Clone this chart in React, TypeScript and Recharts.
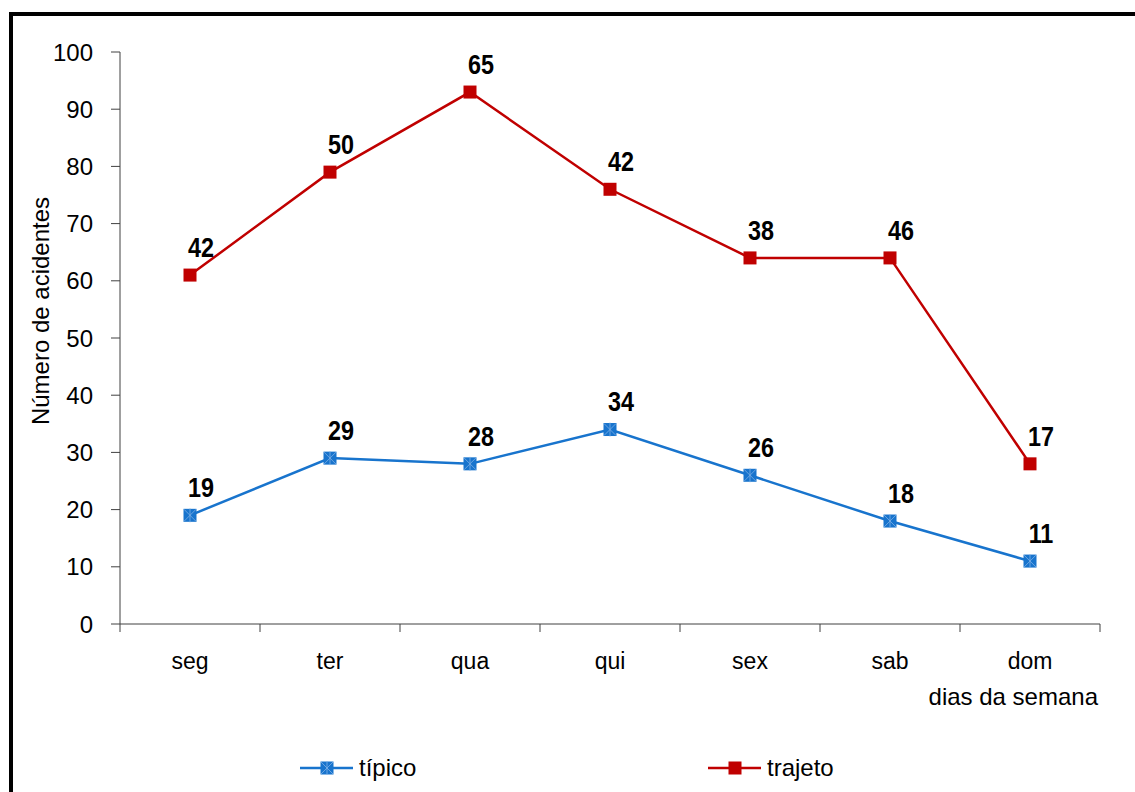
import React from "react";
import { LineChart, Line, XAxis, YAxis, Legend, LabelList } from "recharts";

const DAYS = ["seg", "ter", "qua", "qui", "sex", "sab", "dom"];
const TIPICO = [19, 29, 28, 34, 26, 18, 11];
const TRAJETO = [42, 50, 65, 42, 38, 46, 17];
const Y_TICKS = [0, 10, 20, 30, 40, 50, 60, 70, 80, 90, 100];

const BLUE = "#1874cd";
const RED = "#c00000";
const AXIS = "#404040";
const FONT = "'Liberation Sans', Arial, sans-serif";

const W = 1135;
const H = 792;
const MARGIN = { top: 52, right: 35, bottom: 108, left: 60 };
const HALF_BAND = (W - MARGIN.left - 60 - MARGIN.right) / DAYS.length / 2;

// trajeto is stacked on top of típico (labels show the series' own value)
const data = DAYS.map((dia, i) => ({
  dia,
  tipico: TIPICO[i],
  trajeto: TRAJETO[i],
  trajetoTotal: TIPICO[i] + TRAJETO[i],
}));

const SquareDot = ({ cx, cy, fill, cross }: any) => {
  if (cx == null || cy == null) return null;
  return (
    <g>
      <rect x={cx - 6.5} y={cy - 6.5} width={13} height={13} fill={fill} />
      {cross && (
        <g stroke="#7fb0e6" strokeWidth={0.8}>
          <line x1={cx - 6} y1={cy - 6} x2={cx + 6} y2={cy + 6} />
          <line x1={cx - 6} y1={cy + 6} x2={cx + 6} y2={cy - 6} />
          <line x1={cx} y1={cy - 7} x2={cx} y2={cy + 7} />
        </g>
      )}
    </g>
  );
};

const DayTick = ({ x, y, payload, index }: any) => (
  <g>
    <line x1={x - HALF_BAND} y1={y} x2={x - HALF_BAND} y2={y + 8} stroke={AXIS} />
    {index === DAYS.length - 1 && (
      <line x1={x + HALF_BAND} y1={y} x2={x + HALF_BAND} y2={y + 8} stroke={AXIS} />
    )}
    <text x={x} y={y + 45} textAnchor="middle" fontSize={23} fontFamily={FONT} fill="#000">
      {payload.value}
    </text>
  </g>
);

const ValueLabel = ({ x, y, value }: any) => (
  <text
    transform={`translate(${x + 11},${y - 28}) scale(0.9,1.05)`}
    textAnchor="middle"
    dominantBaseline="central"
    fontSize={26}
    fontWeight="bold"
    fontFamily={FONT}
    fill="#000"
  >
    {value}
  </text>
);

const LegendBox = () => (
  <div style={{ position: "relative", height: 30, fontFamily: FONT, fontSize: 24 }}>
    {[
      { name: "típico", color: BLUE, left: 300, cross: true },
      { name: "trajeto", color: RED, left: 708, cross: false },
    ].map((it) => (
      <div key={it.name} style={{ position: "absolute", left: it.left, top: 0, display: "flex", alignItems: "center" }}>
        <svg width={54} height={30}>
          <line x1={0} y1={15} x2={53} y2={15} stroke={it.color} strokeWidth={2.5} />
          <SquareDot cx={27} cy={15} fill={it.color} cross={it.cross} />
        </svg>
        <span style={{ marginLeft: 5, color: "#000" }}>{it.name}</span>
      </div>
    ))}
  </div>
);

export default function App() {
  return (
    <div style={{ position: "fixed", left: 0, top: 0, width: W, height: H, background: "#fff", overflow: "hidden" }}>
      <div
        style={{
          position: "absolute",
          left: 9,
          top: 12,
          width: W + 20,
          height: H + 20,
          borderLeft: "4px solid #000",
          borderTop: "4px solid #000",
        }}
      />
      <div style={{ position: "absolute", left: 0, top: 0 }}>
        <LineChart width={W} height={H} data={data} margin={MARGIN}>
          <XAxis
            dataKey="dia"
            scale="band"
            stroke={AXIS}
            tickLine={false}
            tickSize={0}
            tickMargin={0}
            height={60}
            tick={<DayTick />}
            interval={0}
            label={{
              content: ({ viewBox }: any) => (
                <text
                  x={viewBox.x + viewBox.width - 2}
                  y={viewBox.y + 81}
                  textAnchor="end"
                  fontSize={24}
                  fontFamily={FONT}
                  fill="#000"
                >
                  dias da semana
                </text>
              ),
            }}
          />
          <YAxis
            domain={[0, 100]}
            ticks={Y_TICKS}
            interval={0}
            width={60}
            stroke={AXIS}
            tickSize={9}
            tickMargin={18}
            tick={{ fontSize: 24, fontFamily: FONT, fill: "#000" }}
            label={{
              content: ({ viewBox }: any) => (
                <text
                  transform={`translate(${viewBox.x - 20},${viewBox.y + viewBox.height / 2 - 27}) rotate(-90)`}
                  textAnchor="middle"
                  dominantBaseline="central"
                  fontSize={24}
                  fontFamily={FONT}
                  fill="#000"
                >
                  Número de acidentes
                </text>
              ),
            }}
          />
          <Legend
            layout="horizontal"
            verticalAlign="middle"
            align="center"
            wrapperStyle={{ position: "absolute", left: 0, top: 753, width: W }}
            content={<LegendBox />}
          />
          <Line
            dataKey="tipico"
            name="típico"
            stroke={BLUE}
            strokeWidth={2.5}
            dot={<SquareDot fill={BLUE} cross />}
            activeDot={false}
            isAnimationActive={false}
          >
            <LabelList dataKey="tipico" content={<ValueLabel />} />
          </Line>
          <Line
            dataKey="trajetoTotal"
            name="trajeto"
            stroke={RED}
            strokeWidth={2.5}
            dot={<SquareDot fill={RED} />}
            activeDot={false}
            isAnimationActive={false}
          >
            <LabelList dataKey="trajeto" content={<ValueLabel />} />
          </Line>
        </LineChart>
      </div>
    </div>
  );
}
